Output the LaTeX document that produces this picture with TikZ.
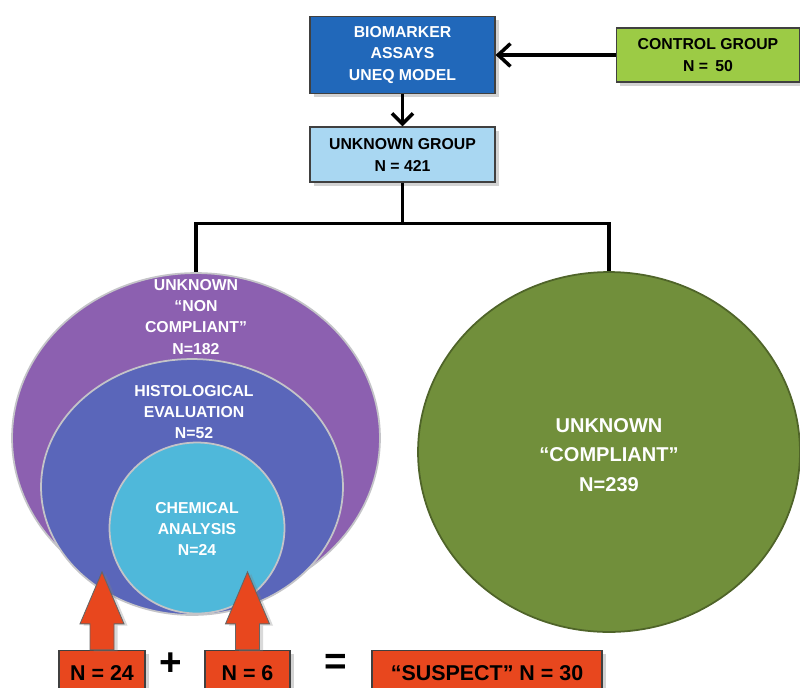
\documentclass[tikz,border=0pt]{standalone}
\usepackage{fontspec}
\setmainfont{Liberation Sans}
\usetikzlibrary{positioning,calc,arrows.meta,shapes.geometric,shadows}
\definecolor{cdeep}{HTML}{2168BA}
\definecolor{clight}{HTML}{A9D7F2}
\definecolor{clime}{HTML}{9CCB45}
\definecolor{cpurp}{HTML}{8C60B0}
\definecolor{cindi}{HTML}{5A66BA}
\definecolor{ccyan}{HTML}{4FB8DA}
\definecolor{colive}{HTML}{718F3B}
\definecolor{cred}{HTML}{E8471E}
\definecolor{crim}{HTML}{C4C4C8}

\begin{document}
\begin{tikzpicture}[x=0.02cm,y=-0.02cm,font=\bfseries,
    box/.style={draw=black!75,line width=0.7pt,align=center,inner sep=0pt,
      drop shadow={shadow xshift=2pt,shadow yshift=-2pt,opacity=0.35}},
    boxtxt/.style={font=\bfseries\fontsize{9}{12.5}\selectfont},
    blob/.style={ellipse,draw=crim,line width=1pt,inner sep=0pt},
    blobtxt/.style={align=center,text=white,font=\bfseries\fontsize{9}{12}\selectfont},
    redbox/.style={box,fill=cred,font=\bfseries\fontsize{12.2}{15}\selectfont},
    link/.style={line width=2pt,draw=black}]
    \useasboundingbox (0,0) rectangle (800,687);
    % ---- top boxes
    \node[box,boxtxt,fill=cdeep,text=white,minimum width=3.7cm,minimum height=1.54cm]
      (assay) at (402.5,55) {BIOMARKER\\ASSAYS\\UNEQ MODEL};
    \node[box,boxtxt,fill=clime,minimum width=3.66cm,minimum height=1.08cm]
      (control) at (708,55) {CONTROL GROUP\\N = \,50};
    \node[box,boxtxt,fill=clight,minimum width=3.7cm,minimum height=1.1cm]
      (unknown) at (402.5,154.5) {UNKNOWN GROUP\\N = 421};
    \draw[link,-{Straight Barb[length=7pt,width=13pt]}] (control) -- (assay);
    \draw[link,-{Straight Barb[length=6pt,width=12pt]}] (assay) -- (unknown);
    % ---- circles
    \node[blob,fill=cpurp,minimum width=7.36cm,minimum height=6.6cm] (noncomp) at (196,438) {};
    \node[blob,fill=cindi,minimum width=6.04cm,minimum height=5.12cm] (histo) at (192,487) {};
    \node[blob,fill=ccyan,minimum width=3.5cm,minimum height=3.42cm] (chem) at (197,528) {};
    \node[blob,fill=colive,draw=colive!70!black,minimum width=7.64cm,minimum height=7.2cm]
      (comp) at (609,452) {};
    \node[blobtxt] (noncomptxt) at (196,317) {UNKNOWN\\``NON\\COMPLIANT''\\N=182};
    \node[blobtxt] (histotxt) at (194,412) {HISTOLOGICAL\\EVALUATION\\N=52};
    \node[blobtxt] (chemtxt) at (197,529) {CHEMICAL\\ANALYSIS\\N=24};
    \node[blobtxt,font=\bfseries\fontsize{11.4}{17}\selectfont] (comptxt) at (609,455)
      {UNKNOWN\\``COMPLIANT''\\N=239};
    % fork from unknown group
    \draw[link] (unknown.south) -- ++(0,41) coordinate (fork);
    \draw[link] (fork) -| (noncomp.north);
    \draw[link] (fork) -| (comp.north);
    % ---- bottom sum
    \node[redbox,minimum width=1.72cm,minimum height=0.9cm] (n24) at (102,673) {N = 24};
    \node[redbox,minimum width=1.7cm,minimum height=0.9cm] (n6) at (247.5,673) {N = 6};
    \node[redbox,minimum width=4.6cm,minimum height=0.9cm] (suspect) at (487,673) {``SUSPECT'' N = 30};
    \node[font=\bfseries\fontsize{22}{22}\selectfont] (plus) at (171,664) {+};
    \node[font=\bfseries\fontsize{22}{22}\selectfont] (equal) at (336,664) {=};
    \foreach \b in {n24,n6}{
      \filldraw[fill=cred,draw=black!60,line width=0.5pt,
        drop shadow={shadow xshift=2pt,shadow yshift=-1pt,opacity=0.3}]
        ($(\b.north)+(-12,0)$) -- ++(0,-26) -- ++(-10,0) -- ++(22,-52)
        -- ++(22,52) -- ++(-10,0) -- ++(0,26) -- cycle;}
  \end{tikzpicture}
\end{document}
